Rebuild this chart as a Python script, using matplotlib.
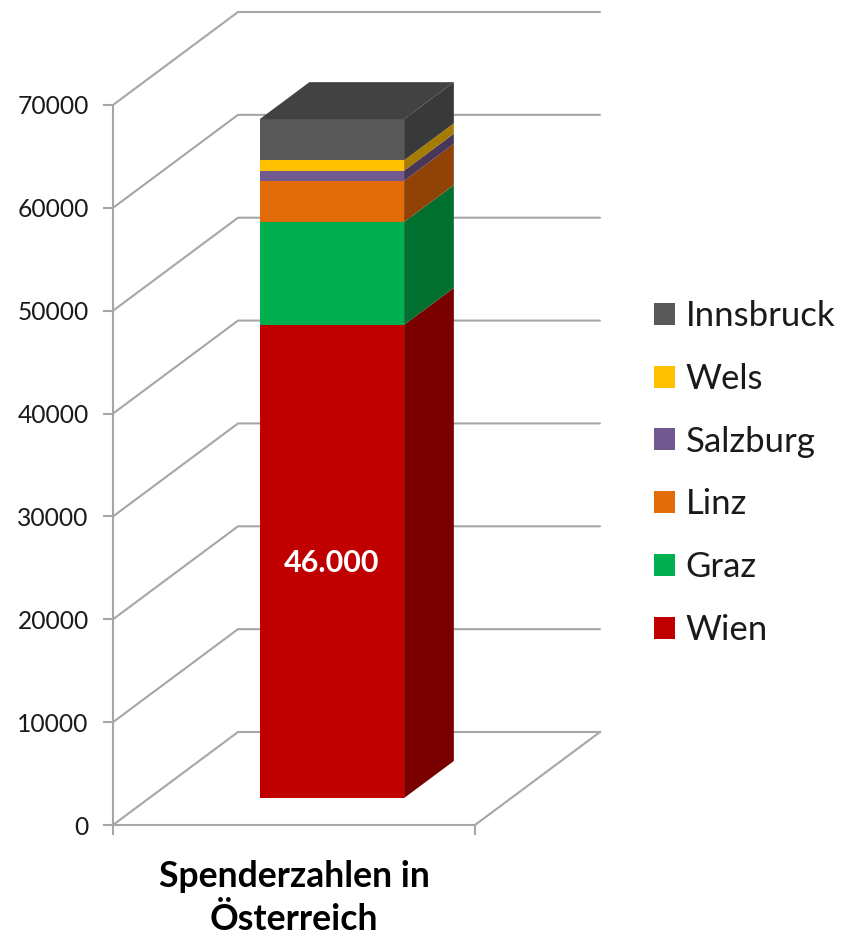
import matplotlib.pyplot as plt
from matplotlib.patches import Patch, Polygon

plt.rcParams['font.family'] = ['Lato', 'DejaVu Sans']

# data
cities = ['Wien', 'Graz', 'Linz', 'Salzburg', 'Wels', 'Innsbruck']
donors = [46000, 10000, 4000, 1000, 1000, 4000]
y_ticks = [0, 10000, 20000, 30000, 40000, 50000, 60000, 70000]
category = 'Spenderzahlen in\nÖsterreich'
bar_label = '46.000'

front_colors = ['#C00000', '#00B050', '#E36C0A', '#71588F', '#FFC000', '#595959']
side_colors = ['#7A0000', '#006F2F', '#914207', '#483759', '#A67C00', '#393939']
top_color = '#424242'
grid_color = '#A6A6A6'
text_color = '#1A1A1A'

# oblique projection: depth 1 = back wall
depth_x = 125 / 362
depth_y = 93 / 720 * 70000
bar_x0, bar_x1 = 0.305, 0.704
bar_d0, bar_d1 = 0.29, 0.688


def project(x, v, d):
    return x + d * depth_x, v + d * depth_y


fig = plt.figure(figsize=(8.43, 9.38), dpi=100)
ax = fig.add_axes([0, 0, 1, 1])
ax.set_xlim(-113 / 362, 730 / 362)
ax.set_ylim(-113 / 720 * 70000, 825 / 720 * 70000)

for s in ['top', 'right']:
    ax.spines[s].set_visible(False)
for s in ['left', 'bottom']:
    ax.spines[s].set_position(('data', 0))
    ax.spines[s].set_color(grid_color)
    ax.spines[s].set_linewidth(1.5)
ax.spines['left'].set_bounds(0, y_ticks[-1])
ax.spines['bottom'].set_bounds(0, 1)
ax.set_yticks(y_ticks)
ax.set_xticks([0, 1], ['', ''])
ax.tick_params(axis='both', length=7.5, width=1.5, color=grid_color)
ax.tick_params(axis='y', labelsize=17.7, labelcolor=text_color, pad=10)

# walls
for v in y_ticks:
    xs, ys = zip(project(0, v, 0), project(0, v, 1), project(1, v, 1))
    ax.plot(xs, ys, color=grid_color, lw=1.5, zorder=1, solid_capstyle='round')
xs, ys = zip(project(1, 0, 1), project(1, 0, 0))
ax.plot(xs, ys, color=grid_color, lw=1.5, zorder=1)

# stacked bar
base = 0
for value, front, side in zip(donors, front_colors, side_colors):
    top = base + value
    ax.add_patch(Polygon([project(bar_x0, base, bar_d0), project(bar_x1, base, bar_d0),
                          project(bar_x1, top, bar_d0), project(bar_x0, top, bar_d0)],
                         facecolor=front, edgecolor='none', zorder=3))
    ax.add_patch(Polygon([project(bar_x1, base, bar_d0), project(bar_x1, base, bar_d1),
                          project(bar_x1, top, bar_d1), project(bar_x1, top, bar_d0)],
                         facecolor=side, edgecolor='none', zorder=3))
    base = top
ax.add_patch(Polygon([project(bar_x0, base, bar_d0), project(bar_x1, base, bar_d0),
                      project(bar_x1, base, bar_d1), project(bar_x0, base, bar_d1)],
                     facecolor=top_color, edgecolor='none', zorder=3))

lx, ly = project((bar_x0 + bar_x1) / 2, donors[0] / 2, bar_d0)
ax.text(lx, ly - 150, bar_label, color='white', fontsize=22, fontweight='bold',
        ha='center', va='center', zorder=4)

ax.text(0.5, -7050, category, fontsize=25.6, fontweight='bold', color='black',
        ha='center', va='center', linespacing=1.37)

handles = [Patch(facecolor=c, edgecolor='none') for c in front_colors[::-1]]
ax.legend(handles, cities[::-1], loc='center left', bbox_to_anchor=(637 / 843, 1 - 473 / 938),
          frameon=False, fontsize=25, labelcolor=text_color, handlelength=0.605, handleheight=0.605,
          handletextpad=0.3, labelspacing=0.885, borderpad=0, borderaxespad=0.5)

fig.savefig('out.png', dpi=100)
